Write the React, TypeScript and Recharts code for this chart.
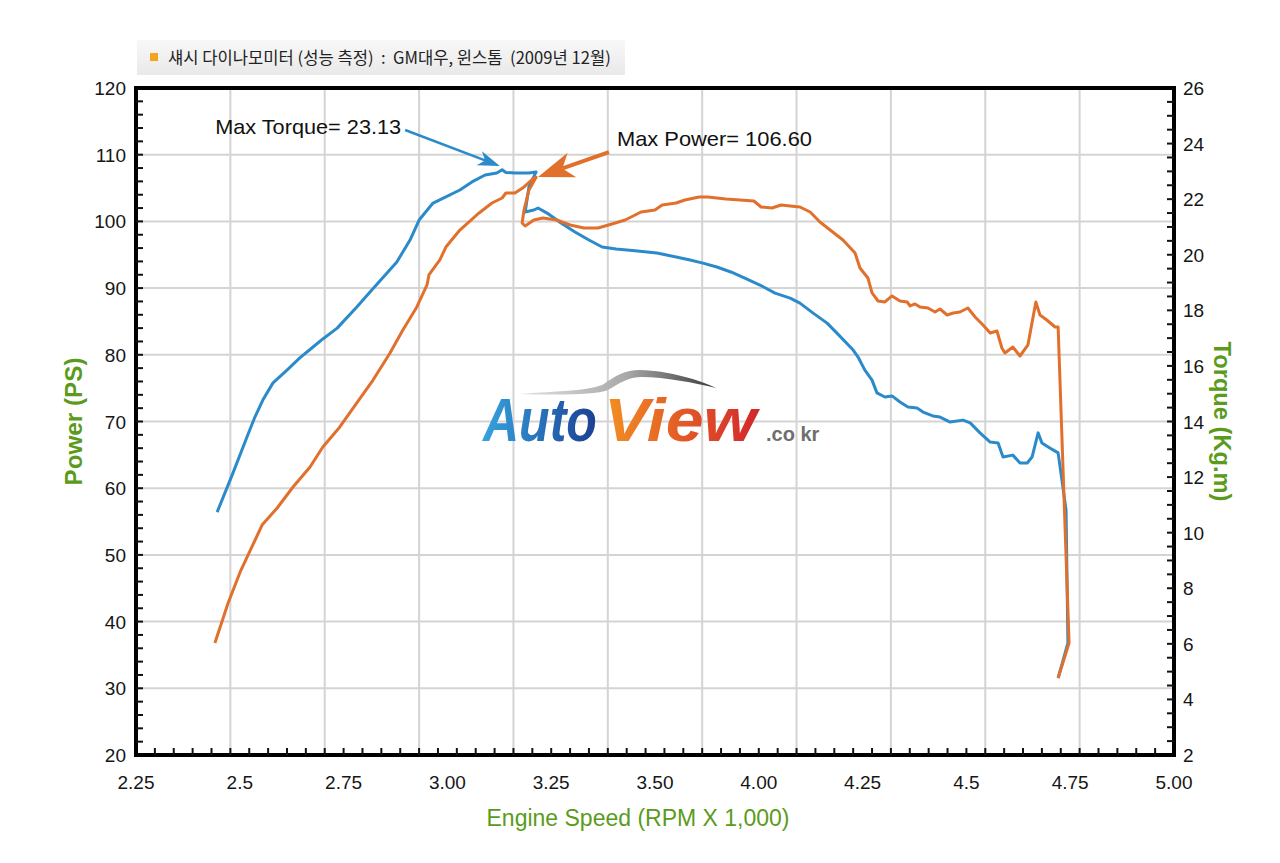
import React from 'react';
import { LineChart, Line, XAxis, YAxis, CartesianGrid, ReferenceLine, Label } from 'recharts';

// ---- chart text ----
const TITLE = '섀시 다이나모미터 (성능 측정)  :  GM대우, 윈스톰  (2009년 12월)';
const X_TITLE = 'Engine Speed (RPM X 1,000)';
const LEFT_TITLE = 'Power (PS)';
const RIGHT_TITLE = 'Torque (Kg.m)';
const MAX_TORQUE_TEXT = 'Max Torque= 23.13';
const MAX_POWER_TEXT = 'Max Power= 106.60';

// printed x labels (the original sheet skips 3.75)
const X_TICK_LABELS = ['2.25', '2.5', '2.75', '3.00', '3.25', '3.50', '4.00', '4.25', '4.5', '4.75', '5.00'];
const X_DOMAIN = [2.25, 5.0];
const POWER_DOMAIN = [20, 120];
const TORQUE_DOMAIN = [2, 26];
const GRID_POWER = [30, 40, 50, 60, 70, 80, 90, 100, 110];
const GRID_RPM = [2.5, 2.75, 3.0, 3.25, 3.5, 3.75, 4.0, 4.25, 4.5, 4.75];

// ---- torque curve (blue, right axis) ----
const torqueRpm = [
  2.465, 2.507, 2.544, 2.565, 2.586, 2.613, 2.65, 2.684, 2.719, 2.745, 2.783, 2.835, 2.87, 2.915, 2.941,
  2.976, 3.0, 3.037, 3.071, 3.108, 3.14, 3.175, 3.206, 3.22, 3.23, 3.254, 3.291, 3.31, 3.291, 3.281,
  3.304, 3.315, 3.339, 3.376, 3.413, 3.45, 3.485, 3.522, 3.572, 3.63, 3.681, 3.718, 3.752, 3.789, 3.826,
  3.863, 3.903, 3.943, 3.983, 4.009, 4.044, 4.081, 4.107, 4.15, 4.163, 4.181, 4.2, 4.213, 4.234, 4.253,
  4.274, 4.295, 4.319, 4.335, 4.361, 4.38, 4.407, 4.441, 4.46, 4.486, 4.513, 4.534, 4.547, 4.573, 4.592,
  4.611, 4.624, 4.64, 4.65, 4.671, 4.693, 4.703, 4.714, 4.719, 4.693,
];
const torqueKgm = [
  10.74, 12.15, 13.44, 14.16, 14.77, 15.39, 15.85, 16.29, 16.68, 16.97, 17.36, 18.12, 18.66, 19.34, 19.74,
  20.53, 21.25, 21.86, 22.08, 22.33, 22.62, 22.87, 22.94, 23.06, 22.96, 22.94, 22.94, 22.98, 22.44, 21.54,
  21.61, 21.68, 21.5, 21.14, 20.82, 20.53, 20.28, 20.21, 20.14, 20.06, 19.92, 19.81, 19.7, 19.56, 19.38,
  19.16, 18.91, 18.62, 18.44, 18.26, 17.9, 17.54, 17.18, 16.57, 16.32, 15.85, 15.49, 15.03, 14.88, 14.92,
  14.7, 14.52, 14.49, 14.34, 14.2, 14.16, 13.98, 14.05, 13.95, 13.59, 13.26, 13.23, 12.72, 12.79, 12.51,
  12.51, 12.72, 13.59, 13.23, 13.05, 12.87, 11.9, 10.82, 6.03, 4.77,
];

// ---- power curve (orange, left axis) ----
const powerRpm = [
  2.459, 2.494, 2.526, 2.557, 2.584, 2.624, 2.666, 2.711, 2.745, 2.79, 2.835, 2.878, 2.923, 2.957, 2.994,
  3.021, 3.026, 3.055, 3.071, 3.108, 3.159, 3.193, 3.22, 3.23, 3.254, 3.278, 3.304, 3.31, 3.291, 3.278,
  3.273, 3.281, 3.304, 3.328, 3.365, 3.4, 3.437, 3.474, 3.511, 3.546, 3.588, 3.625, 3.644, 3.681, 3.704,
  3.742, 3.765, 3.789, 3.813, 3.85, 3.887, 3.906, 3.935, 3.959, 3.983, 4.009, 4.036, 4.062, 4.089, 4.123,
  4.155, 4.168, 4.189, 4.2, 4.216, 4.234, 4.253, 4.274, 4.293, 4.301, 4.314, 4.327, 4.348, 4.367, 4.38,
  4.399, 4.415, 4.433, 4.454, 4.473, 4.494, 4.513, 4.531, 4.544, 4.552, 4.573, 4.592, 4.613, 4.634, 4.645,
  4.663, 4.685, 4.693, 4.722, 4.693,
];
const powerPs = [
  36.79, 42.79, 47.44, 51.19, 54.48, 57.03, 60.18, 63.18, 66.18, 69.18, 72.78, 76.22, 80.27, 83.72, 87.17,
  90.47, 91.97, 94.22, 96.16, 98.71, 101.26, 102.76, 103.51, 104.26, 104.26, 105.16, 106.5, 106.6, 104.69, 101.7,
  99.76, 99.31, 100.21, 100.51, 100.21, 99.46, 99.01, 99.01, 99.61, 100.21, 101.41, 101.71, 102.46, 102.76, 103.21,
  103.66, 103.66, 103.51, 103.36, 103.21, 103.06, 102.16, 102.01, 102.46, 102.31, 102.16, 101.41, 99.91, 98.71, 97.21,
  95.26, 93.01, 91.52, 89.27, 88.07, 87.92, 88.82, 88.07, 87.92, 87.32, 87.62, 87.17, 87.02, 86.42, 86.87,
  85.97, 86.27, 86.42, 87.02, 85.67, 84.47, 83.27, 83.57, 81.02, 80.27, 81.17, 79.82, 81.47, 87.92, 85.97,
  85.22, 84.17, 84.17, 36.79, 31.54,
];

// annotation arrows (start -> tip, in rpm / PS)
const torqueArrow = [{ x: 2.963, y: 113.7 }, { x: 3.214, y: 108.3 }];
const powerArrow = [{ x: 3.503, y: 110.4 }, { x: 3.315, y: 106.66 }];

const FONT = '"Liberation Sans", Arial, Helvetica, sans-serif';
const BLUE = '#2b8bca';
const ORANGE = '#e2702d';
const GREEN = '#5a9b1c';
const INK = '#161616';

const torqueData = torqueRpm.map((rpm, i) => ({ rpm, value: torqueKgm[i] }));
const powerData = powerRpm.map((rpm, i) => ({ rpm, value: powerPs[i] }));

// fine tick grid: minor marks every 0.05, printed labels every 11th step
const X_STEP = 0.025;
const xTicks = Array.from({ length: 111 }, (_, i) => +(X_DOMAIN[0] + i * X_STEP).toFixed(3));
const powerTicks = Array.from({ length: 51 }, (_, i) => 20 + i * 2);
const torqueTicks = Array.from({ length: 49 }, (_, i) => 2 + i * 0.5);

const XTick = ({ x, y, payload }: any) => {
  const i = Math.round((payload.value - X_DOMAIN[0]) / X_STEP);
  return (
    <g>
      {i % 2 === 0 && i > 0 && i < 110 && (
        <line x1={x} x2={x} y1={y} y2={y - 7} stroke="#111" strokeWidth={2} />
      )}
      {i % 11 === 0 && (
        <text x={x} y={y + 34} textAnchor="middle" fontFamily={FONT} fontSize={19} fill={INK}>
          {X_TICK_LABELS[i / 11]}
        </text>
      )}
    </g>
  );
};

const PowerTick = ({ x, y, payload }: any) => {
  const v = payload.value;
  return (
    <g>
      {v > 20 && v < 120 && <line x1={x} x2={x + 7} y1={y} y2={y} stroke="#111" strokeWidth={2} />}
      {v % 10 === 0 && (
        <text x={x - 10} y={y + 7} textAnchor="end" fontFamily={FONT} fontSize={19} fill={INK}>
          {v}
        </text>
      )}
    </g>
  );
};

const TorqueTick = ({ x, y, payload }: any) => {
  const v = payload.value;
  return (
    <g>
      {v > 2 && v < 26 && <line x1={x} x2={x - 7} y1={y} y2={y} stroke="#111" strokeWidth={2} />}
      {Number.isInteger(v) && v % 2 === 0 && (
        <text x={x + 9} y={y + 7} textAnchor="start" fontFamily={FONT} fontSize={19} fill={INK}>
          {v}
        </text>
      )}
    </g>
  );
};

type ArrowOpts = {
  head: number;
  width: number;
  line: number;
  text: string;
  dx: number;
  dy: number;
  anchor: 'start' | 'end';
  textLen: number;
};

// line + barbed arrow head + caption, drawn from the ReferenceLine segment ends
const arrowShape = (o: ArrowOpts) => (p: any) => {
  const { x1, y1, x2, y2, stroke } = p;
  const a = Math.atan2(y2 - y1, x2 - x1);
  const c = Math.cos(a);
  const s = Math.sin(a);
  const bx = x2 - o.head * c;
  const by = y2 - o.head * s;
  const nx = x2 - o.head * 0.72 * c;
  const ny = y2 - o.head * 0.72 * s;
  const hw = o.width / 2;
  const pts = [
    [x2, y2],
    [bx - s * hw, by + c * hw],
    [nx, ny],
    [bx + s * hw, by - c * hw],
  ];
  return (
    <g>
      <line x1={x1} y1={y1} x2={nx} y2={ny} stroke={stroke} strokeWidth={o.line} />
      <polygon points={pts.map((q) => q.join(',')).join(' ')} fill={stroke} />
      <text
        x={x1 + o.dx}
        y={y1 + o.dy}
        textAnchor={o.anchor}
        fontFamily={FONT}
        fontSize={21}
        fill="#111"
        textLength={o.textLen}
        lengthAdjust="spacingAndGlyphs"
      >
        {o.text}
      </text>
    </g>
  );
};

const W = 1280;
const H = 863;
const MARGIN = { top: 88, right: 20, bottom: 20, left: 40 };
const LEFT_W = 96;
const RIGHT_W = 86;
const X_H = 88;

const App: React.FC = () => {
  return (
    <div style={{ position: 'absolute', left: 0, top: 0, width: W, height: H, background: '#fff' }}>
      {/* title strip */}
      <div
        style={{
          position: 'absolute',
          left: 137,
          top: 40,
          width: 488,
          height: 35,
          background: 'linear-gradient(#f8f8f8, #e9e9e9)',
          fontFamily: '"Noto Sans CJK KR", "Noto Sans", sans-serif',
          fontSize: 16.6,
          lineHeight: '35px',
          color: '#222',
          whiteSpace: 'pre',
        }}
      >
        <span
          style={{
            position: 'absolute',
            left: 13,
            top: 13,
            width: 8,
            height: 8,
            background: '#f5a21f',
          }}
        />
        <span style={{ position: 'absolute', left: 31, top: 0 }}>{TITLE}</span>
      </div>

      <LineChart width={W} height={H} margin={MARGIN}>
        <CartesianGrid
          yAxisId="power"
          horizontalValues={GRID_POWER}
          verticalValues={GRID_RPM}
          stroke="#d4d4d4"
          strokeWidth={2}
        />
        <XAxis
          dataKey="rpm"
          type="number"
          domain={X_DOMAIN}
          ticks={xTicks}
          interval={0}
          tick={<XTick />}
          tickLine={false}
          tickSize={0}
          tickMargin={0}
          height={X_H}
          allowDataOverflow
          axisLine={{ stroke: '#000', strokeWidth: 4, strokeLinecap: 'square' }}
        >
          <Label
            content={(props: any) => {
              const vb = props.viewBox || { x: MARGIN.left + LEFT_W, y: H - MARGIN.bottom - X_H, width: W - MARGIN.left - LEFT_W - MARGIN.right - RIGHT_W };
              const cx = vb.x + vb.width / 2 - 17;
              const cy = vb.y + 71;
              return (
                <text x={cx} y={cy} textAnchor="middle" fontFamily={FONT} fontSize={23} fill={GREEN} textLength={303} lengthAdjust="spacingAndGlyphs">
                  {X_TITLE}
                </text>
              );
            }}
          />
        </XAxis>
        <YAxis
          yAxisId="power"
          orientation="left"
          type="number"
          domain={POWER_DOMAIN}
          ticks={powerTicks}
          interval={0}
          tick={<PowerTick />}
          tickLine={false}
          tickSize={0}
          tickMargin={0}
          width={LEFT_W}
          allowDataOverflow
          axisLine={{ stroke: '#000', strokeWidth: 4, strokeLinecap: 'square' }}
        >
          <Label
            content={(props: any) => {
              const vb = props.viewBox || { x: MARGIN.left, y: MARGIN.top, height: H - MARGIN.top - MARGIN.bottom - X_H };
              const cx = vb.x + 33;
              const cy = vb.y + vb.height / 2;
              return (
                <text
                  x={cx}
                  y={cy}
                  transform={`rotate(-90 ${cx} ${cy})`}
                  textAnchor="middle"
                  dominantBaseline="central"
                  fontFamily={FONT}
                  fontWeight="bold"
                  fontSize={24}
                  fill={GREEN}
                  textLength={128}
                  lengthAdjust="spacingAndGlyphs"
                >
                  {LEFT_TITLE}
                </text>
              );
            }}
          />
        </YAxis>
        <YAxis
          yAxisId="torque"
          orientation="right"
          type="number"
          domain={TORQUE_DOMAIN}
          ticks={torqueTicks}
          interval={0}
          tick={<TorqueTick />}
          tickLine={false}
          tickSize={0}
          tickMargin={0}
          width={RIGHT_W}
          allowDataOverflow
          axisLine={{ stroke: '#000', strokeWidth: 4, strokeLinecap: 'square' }}
        >
          <Label
            content={(props: any) => {
              const vb = props.viewBox || { x: W - MARGIN.right - RIGHT_W, y: MARGIN.top, height: H - MARGIN.top - MARGIN.bottom - X_H };
              const cx = vb.x + 48;
              const cy = vb.y + vb.height / 2;
              return (
                <text
                  x={cx}
                  y={cy}
                  transform={`rotate(90 ${cx} ${cy})`}
                  textAnchor="middle"
                  dominantBaseline="central"
                  fontFamily={FONT}
                  fontWeight="bold"
                  fontSize={24}
                  fill={GREEN}
                  textLength={160}
                  lengthAdjust="spacingAndGlyphs"
                >
                  {RIGHT_TITLE}
                </text>
              );
            }}
          />
        </YAxis>

        <Line
          yAxisId="torque"
          data={torqueData}
          dataKey="value"
          type="linear"
          stroke={BLUE}
          strokeWidth={3}
          strokeLinejoin="round"
          dot={false}
          activeDot={false}
          isAnimationActive={false}
        />
        <Line
          yAxisId="power"
          data={powerData}
          dataKey="value"
          type="linear"
          stroke={ORANGE}
          strokeWidth={3}
          strokeLinejoin="round"
          dot={false}
          activeDot={false}
          isAnimationActive={false}
        />

        {/* top edge of the frame */}
        <ReferenceLine yAxisId="power" y={120} stroke="#000" strokeWidth={4} strokeLinecap="square" />

        <ReferenceLine
          yAxisId="power"
          segment={torqueArrow}
          stroke={BLUE}
          ifOverflow="visible"
          shape={arrowShape({ head: 22, width: 15, line: 2.5, text: MAX_TORQUE_TEXT, dx: -4, dy: 4, anchor: 'end', textLen: 186 })}
        />
        <ReferenceLine
          yAxisId="power"
          segment={powerArrow}
          stroke={ORANGE}
          ifOverflow="visible"
          shape={arrowShape({ head: 36, width: 26, line: 4, text: MAX_POWER_TEXT, dx: 8, dy: -6, anchor: 'start', textLen: 195 })}
        />
      </LineChart>

      {/* AutoView watermark */}
      <svg width={W} height={H} style={{ position: 'absolute', left: 0, top: 0, pointerEvents: 'none' }}>
        <defs>
          <linearGradient id="wmAuto" gradientUnits="userSpaceOnUse" x1="0" y1="0" x2="114" y2="0">
            <stop offset="0" stopColor="#36a3de" />
            <stop offset="1" stopColor="#1c3f93" />
          </linearGradient>
          <linearGradient id="wmView" gradientUnits="userSpaceOnUse" x1="0" y1="0" x2="114" y2="0">
            <stop offset="0" stopColor="#f39022" />
            <stop offset="1" stopColor="#d3262b" />
          </linearGradient>
          <linearGradient id="wmSwoosh" gradientUnits="userSpaceOnUse" x1="518" y1="0" x2="716" y2="0">
            <stop offset="0" stopColor="#e2e2e2" />
            <stop offset="0.55" stopColor="#a8a8a8" />
            <stop offset="1" stopColor="#3a3a3a" />
          </linearGradient>
        </defs>
        <path
          d="M 518 394 C 560 391, 590 391, 604 384 C 615 376, 625 370, 640 370 C 670 371, 700 380, 716 388 C 695 383, 665 377, 642 377 C 628 377, 620 383, 608 390 C 595 395, 560 395, 518 394 Z"
          fill="url(#wmSwoosh)"
        />
        <g transform="translate(483 441) scale(1 1.22)">
          <text x={0} y={0} fontFamily={FONT} fontWeight="bold" fontStyle="italic" fontSize={50} fill="url(#wmAuto)">
            Auto
          </text>
        </g>
        <g transform="translate(604 441) scale(1.36 1.22)">
          <text x={0} y={0} fontFamily={FONT} fontWeight="bold" fontStyle="italic" fontSize={50} fill="url(#wmView)">
            View
          </text>
        </g>
        <text x={766} y={441} fontFamily={FONT} fontWeight="bold" fontSize={20} fill="#6f6f6f">
          .co kr
        </text>
      </svg>
    </div>
  );
};

export default App;
